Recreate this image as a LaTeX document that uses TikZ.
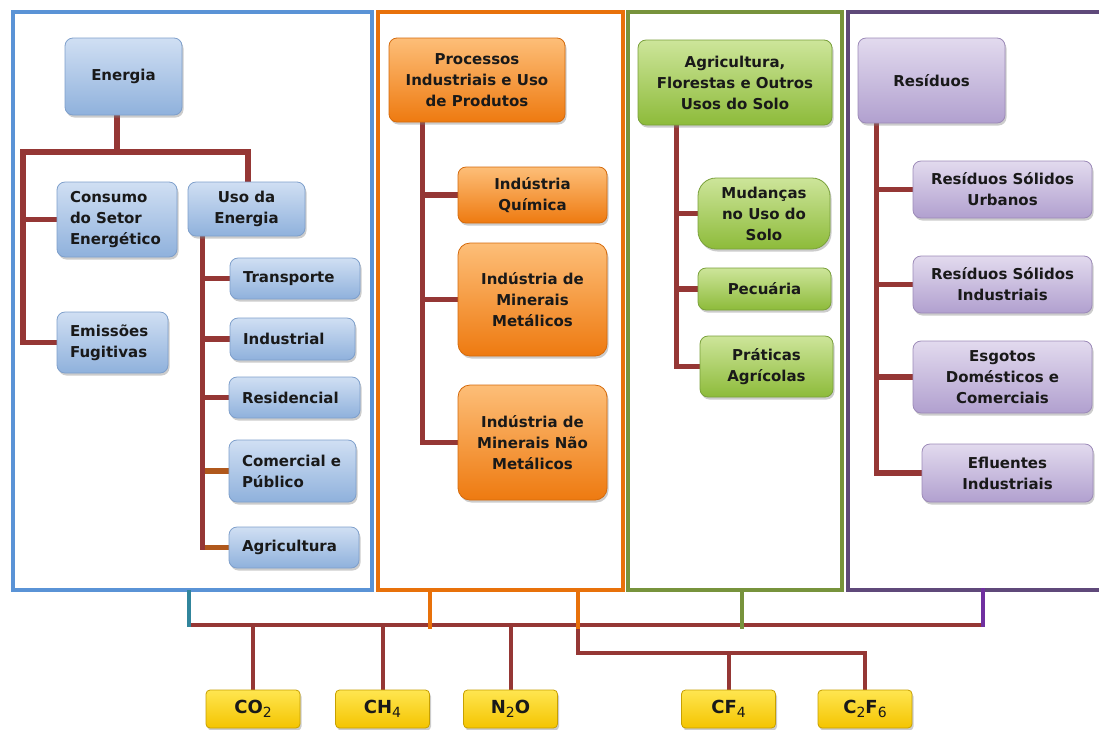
\documentclass[tikz,border=0pt]{standalone}
\usepackage{fontspec}
\setmainfont{DejaVu Sans}
\usetikzlibrary{shadows,backgrounds}
\definecolor{enframe}{HTML}{5A93D6}
\definecolor{ipframe}{HTML}{E8710A}
\definecolor{afframe}{HTML}{77933C}
\definecolor{rsframe}{HTML}{5F497A}
\definecolor{stubblue}{HTML}{31859C}
\definecolor{stubpurple}{HTML}{7030A0}
\definecolor{treered}{HTML}{953735}
\definecolor{treebrown}{HTML}{B0581C}
\definecolor{entop}{HTML}{D0DFF3}
\definecolor{enbot}{HTML}{8FB1DC}
\definecolor{enline}{HTML}{7E9FCB}
\definecolor{iptop}{HTML}{FDBE78}
\definecolor{ipbot}{HTML}{EE7A10}
\definecolor{ipline}{HTML}{D46A0C}
\definecolor{aftop}{HTML}{CDE59A}
\definecolor{afbot}{HTML}{8DBB3A}
\definecolor{afline}{HTML}{79A03A}
\definecolor{rstop}{HTML}{E2DAEE}
\definecolor{rsbot}{HTML}{B1A0CF}
\definecolor{rsline}{HTML}{9C8AB8}
\definecolor{gastop}{HTML}{FFE650}
\definecolor{gasbot}{HTML}{F4C400}
\definecolor{gasline}{HTML}{C7A000}
\newcommand{\gsub}[1]{{\fontsize{14}{14}\selectfont\mdseries\raisebox{-4.5pt}{#1}}}

\begin{document}
\begin{tikzpicture}[x=1pt, y=-1pt,
    box/.style = {rounded corners=8pt, line width=0.8pt, inner sep=2pt, align=center, text=black!90,
                  font=\fontsize{15}{21}\selectfont\bfseries,
                  drop shadow={opacity=0.4, shadow xshift=1.5pt, shadow yshift=-2.5pt}},
    sz/.style 2 args = {minimum width=#1, minimum height=#2},
    en/.style = {box, draw=enline, top color=entop, bottom color=enbot},
    enleft/.style = {en, align=left, inner xsep=13pt, text width=#1},
    ip/.style = {box, draw=ipline, top color=iptop, bottom color=ipbot},
    af/.style = {box, draw=afline, top color=aftop, bottom color=afbot},
    rs/.style = {box, draw=rsline, top color=rstop, bottom color=rsbot},
    gas/.style = {box, rounded corners=4pt, draw=gasline, top color=gastop, bottom color=gasbot,
                  font=\fontsize{18}{18}\selectfont\bfseries, sz={94pt}{38pt}},
    sectframe/.style = {draw=#1, line width=4pt, inner sep=0pt},
    treeln/.style = {draw=treered, line width=5.5pt, line cap=rect},
    treebr/.style = {treeln, draw=treebrown},
    busln/.style = {draw=treered, line width=4pt, line cap=rect},
    stub/.style = {draw=#1, line width=3.5pt, line cap=rect}
  ]
  \useasboundingbox (0,0) rectangle (1099,729);

  \node[en, sz={117pt}{77pt}] (energia) at (123.5,76.5) {Energia};
  \node[enleft=94pt, sz={120pt}{75pt}] (consumo) at (117,219.5) {Consumo\\do Setor\\Energético};
  \node[en, sz={117pt}{54pt}] (usoen) at (246.5,209) {Uso da\\Energia};
  \node[enleft=85pt, sz={111pt}{61pt}] (fugit) at (112.5,342.5) {Emissões\\Fugitivas};
  \node[enleft=104pt, sz={130pt}{41pt}] (transp) at (295,278.5) {Transporte};
  \node[enleft=99pt, sz={125pt}{42pt}] (indust) at (292.5,339) {Industrial};
  \node[enleft=105pt, sz={131pt}{41pt}] (resid) at (294.5,397.5) {Residencial};
  \node[enleft=101pt, sz={127pt}{62pt}] (comerc) at (292.5,471) {Comercial e\\Público};
  \node[enleft=104pt, sz={130pt}{41pt}] (agric) at (294,547.5) {Agricultura};

  \node[ip, sz={176pt}{84pt}] (proc) at (477,80) {Processos\\Industriais e Uso\\de Produtos};
  \node[ip, sz={149pt}{56pt}] (quim) at (532.5,195) {Indústria\\Química};
  \node[ip, rounded corners=12pt, sz={149pt}{113pt}] (minmet) at (532.5,299.5) {Indústria de\\Minerais\\Metálicos};
  \node[ip, rounded corners=12pt, sz={149pt}{115pt}] (minnao) at (532.5,442.5) {Indústria de\\Minerais Não\\Metálicos};

  \node[af, sz={194pt}{85pt}] (agro) at (735,82.5) {Agricultura,\\Florestas e Outros\\Usos do Solo};
  \node[af, rounded corners=18pt, sz={132pt}{71pt}] (mudanca) at (764,213.5) {Mudanças\\no Uso do\\Solo};
  \node[af, sz={133pt}{42pt}] (pecuaria) at (764.5,289) {Pecuária};
  \node[af, sz={133pt}{61pt}] (praticas) at (766.5,366.5) {Práticas\\Agrícolas};

  \node[rs, sz={147pt}{85pt}] (residuos) at (931.5,80.5) {Resíduos};
  \node[rs, sz={179pt}{57pt}] (rsu) at (1002.5,189.5) {Resíduos Sólidos\\Urbanos};
  \node[rs, sz={179pt}{57pt}] (rsi) at (1002.5,284.5) {Resíduos Sólidos\\Industriais};
  \node[rs, sz={179pt}{72pt}] (esgoto) at (1002.5,377) {Esgotos\\Domésticos e\\Comerciais};
  \node[rs, sz={171pt}{58pt}] (eflu) at (1007.5,473) {Efluentes\\Industriais};

  \node[gas] (co2) at (253,709) {CO\gsub{2}};
  \node[gas] (ch4) at (382.5,709) {CH\gsub{4}};
  \node[gas] (n2o) at (510.5,709) {N\gsub{2}O};
  \node[gas] (cf4) at (728.5,709) {CF\gsub{4}};
  \node[gas] (c2f6) at (865,709) {C\gsub{2}F\gsub{6}};

  \begin{scope}[on background layer]
    \node[sectframe=enframe, sz={359pt}{578pt}] (fen) at (192.5,301) {};
    \node[sectframe=ipframe, sz={245pt}{578pt}] (fip) at (500.5,301) {};
    \node[sectframe=afframe, sz={214pt}{578pt}] (faf) at (735,301) {};
    \draw[sectframe=rsframe] (1099,12) -| (848,590) -- (1099,590);
    \coordinate (frs) at (983,590);

    \coordinate (el) at (23,152);
    \coordinate (er) at (248,152);
    \draw[treeln] ([xshift=-6.5pt]energia.south) -- ([xshift=-6.5pt]energia.south |- el);
    \draw[treeln] (fugit.west) -| (el) -- (er) -- (er |- usoen.north);
    \draw[treeln] (consumo.west) -- (consumo.west -| el);

    \coordinate (us) at ([xshift=15pt]usoen.south west);
    \foreach \n in {transp,indust,resid} \draw[treeln] (\n.west) -- (\n.west -| us);
    \foreach \n in {comerc,agric} \draw[treebr] (\n.west) -- (\n.west -| us);
    \draw[treeln] (us) -- (us |- agric.west);

    \coordinate (ps) at ([xshift=34pt]proc.south west);
    \foreach \n in {quim,minmet,minnao} \draw[treeln] (\n.west) -- (\n.west -| ps);
    \draw[treeln] (ps) -- (ps |- minnao.west);

    \coordinate (agsp) at ([xshift=39pt]agro.south west);
    \foreach \n in {mudanca,pecuaria,praticas} \draw[treeln] (\n.west) -- (\n.west -| agsp);
    \draw[treeln] (agsp) -- (agsp |- praticas.west);

    \coordinate (rssp) at ([xshift=19pt]residuos.south west);
    \foreach \n in {rsu,rsi,esgoto,eflu} \draw[treeln] (\n.west) -- (\n.west -| rssp);
    \draw[treeln] (rssp) -- (rssp |- eflu.west);

    \coordinate (busl) at (189,625);
    \coordinate (busr) at (983,625);
    \coordinate (bus2) at (578,653);
    \draw[busln] (busl) -- (busr);
    \foreach \n in {co2,ch4,n2o} \draw[busln] (\n) -- (\n |- busl);
    \draw[busln] ([xshift=77.5pt]fip.south) -- (bus2) -| (c2f6);
    \draw[busln] (cf4) -- (cf4 |- bus2);
    \draw[stub=stubblue] (fen.south -| busl) -- (busl);
    \draw[stub=ipframe] ([xshift=-70.5pt]fip.south) -- ++(0,35);
    \draw[stub=ipframe] ([xshift=77.5pt]fip.south) -- ++(0,35);
    \draw[stub=afframe] ([xshift=7pt]faf.south) -- ++(0,35);
    \draw[stub=stubpurple] (frs) -- (busr);
  \end{scope}
\end{tikzpicture}
\end{document}
